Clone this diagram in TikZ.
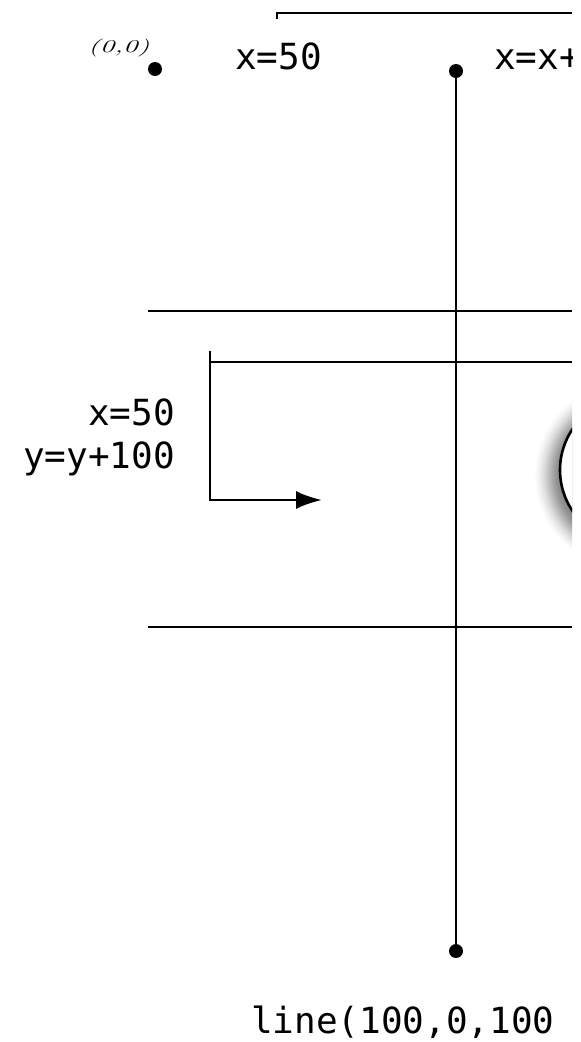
\documentclass[tikz,border=0pt]{standalone}
\usepackage{fontspec}
\setmonofont{DejaVu Sans Mono}
\usetikzlibrary{arrows.meta}
\pgfdeclareradialshading{shfade}{\pgfpoint{0bp}{0bp}}{color(0bp)=(black!50); color(17.5bp)=(black!50); color(19.2bp)=(black!42); color(20.8bp)=(black!28); color(22.4bp)=(black!14); color(23.8bp)=(black!5); color(25bp)=(white); color(50bp)=(white)}
\tikzset{
  ln/.style={line width=2.6pt, line cap=butt},
  dotmark/.style={circle, fill=black, inner sep=0pt, minimum size=14pt},
  codetxt/.style={font=\ttfamily\fontsize{36}{43}\selectfont, inner sep=0pt},
  origtxt/.style={font=\fontsize{18}{20}\selectfont\itshape, inner sep=0pt, text=black},
}
\begin{document}
\begin{tikzpicture}[x=1pt,y=-1pt]
\useasboundingbox (0,0) rectangle (581,1042);
\fill[white] (0,0) rectangle (581,1042);
\begin{scope}
\clip (0,0) rectangle (572,1042);
% coordinates
\coordinate (o) at (155,69);
\coordinate (vt) at (456,71);
\coordinate (vb) at (456,951);
\coordinate (h1l) at (148,311);
\coordinate (h1r) at (572,311);
\coordinate (h2l) at (148,627);
\coordinate (h2r) at (572,627);
\coordinate (b1) at (210,351);
\coordinate (b1c) at (210,362);
\coordinate (b1r) at (572,362);
\coordinate (b1d) at (210,500);
\coordinate (ar) at (322,500);
\coordinate (tb) at (277,19);
\coordinate (tbc) at (277,13);
\coordinate (tbr) at (572,13);
% soft shadow of the circle
\shade[shading=shfade] (628,475) circle (94pt);
% circle
\node[circle, draw, line width=2.6pt, fill=white, minimum size=146pt, inner sep=0pt]
  (circ) at (633,470) {};
% lines
\draw[ln] (vt) -- (vb);
\draw[ln] (h1l) -- (h1r);
\draw[ln] (h2l) -- (h2r);
\draw[ln] (b1c) -- (b1r);
\draw[ln] (b1) -- (b1d);
\draw[ln, -{Latex[length=26pt, width=18pt]}] ([xshift=-1.3pt]b1d) -- (ar);
\draw[ln] (tb) -- ([yshift=-1.3pt]tbc) ;
\draw[ln] ([xshift=-1.3pt]tbc) -- (tbr);
% dots
\node[dotmark] (d0) at (o) {};
\node[dotmark] (dt) at (vt) {};
\node[dotmark] (db) at (vb) {};
% texts
\node[origtxt, anchor=base west] (lorig) at (88,52) {\scalebox{1.62}[1]{(0,0)}};
\node[codetxt, anchor=base west] (tx1) at (235,69) {x=50};
\node[codetxt, anchor=base west] (tx2) at (494,69) {x=x+};
\node[codetxt, anchor=base east] (lx) at (175,425) {x=50};
\node[codetxt, anchor=base east] (ly) at (175,468) {y=y+100};
\node[codetxt, anchor=base west] (bt) at (251,1033) {line(100,0,100};
\end{scope}
\end{tikzpicture}
\end{document}
